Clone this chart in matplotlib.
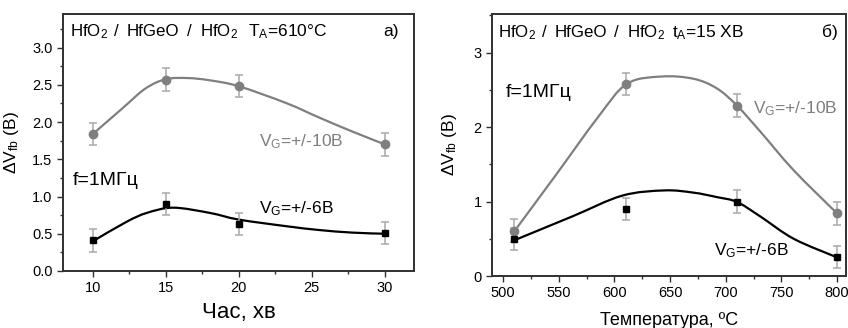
import matplotlib
matplotlib.use("Agg")
import matplotlib.pyplot as plt
from matplotlib.path import Path
from matplotlib.patches import PathPatch
from matplotlib.ticker import MultipleLocator, FormatStrFormatter

plt.rcParams['font.family'] = ['Liberation Sans', 'DejaVu Sans']
plt.rcParams['mathtext.fontset'] = 'custom'
plt.rcParams['mathtext.rm'] = 'Liberation Sans'
plt.rcParams['mathtext.it'] = 'Liberation Sans:italic'
plt.rcParams['mathtext.bf'] = 'Liberation Sans:bold'

# a) anneal time, T_A = 610 C
time_min = [10, 15, 20, 30]
dv10_time = [1.84, 2.57, 2.48, 1.70]
dv6_time = [0.41, 0.90, 0.63, 0.51]
err_time = [0.15, 0.15, 0.15, 0.15]
# smooth curves
fit10_t_x = [10, 12, 13.6, 15, 16.5, 18, 20, 23.3, 25.5, 27.8, 30]
fit10_t = [1.84, 2.18, 2.45, 2.575, 2.59, 2.56, 2.48, 2.25, 2.06, 1.87, 1.70]
fit6_t_x = [10, 12.3, 13.7, 15.5, 18, 20, 23.3, 25.5, 27.8, 30]
fit6_t = [0.40, 0.66, 0.78, 0.85, 0.78, 0.69, 0.60, 0.55, 0.515, 0.50]

# б) anneal temperature, t_A = 15 min
temp_c = [510, 610, 710, 800]
dv10_temp = [0.61, 2.58, 2.29, 0.84]
dv6_temp = [0.50, 0.90, 1.00, 0.255]
err_temp = [0.15, 0.15, 0.15, 0.15]
fit10_T_x = [510, 547, 585, 611, 642, 671, 692, 710, 731, 761, 800]
fit10_T = [0.60, 1.35, 2.13, 2.58, 2.68, 2.65, 2.52, 2.29, 1.94, 1.42, 0.84]
fit6_T_x = [510, 562, 607, 645, 671, 692, 710, 731, 761, 800]
fit6_T = [0.48, 0.80, 1.08, 1.15, 1.12, 1.06, 0.995, 0.80, 0.50, 0.25]

stack_parts = [r'HfO$_2$', '/', 'HfGeO', '/', r'HfO$_2$']

GRAY = '#7f7f7f'
ERR = '#a8a8a8'
AX = '#303030'


def smooth(ax, xs, ys, color):
    # Catmull-Rom through the read points, drawn as a cubic Bezier path
    verts = [(xs[0], ys[0])]
    codes = [Path.MOVETO]
    n = len(xs)
    for i in range(n - 1):
        x0, y0 = (xs[i - 1], ys[i - 1]) if i > 0 else (xs[i], ys[i])
        x1, y1 = xs[i], ys[i]
        x2, y2 = xs[i + 1], ys[i + 1]
        x3, y3 = (xs[i + 2], ys[i + 2]) if i + 2 < n else (x2, y2)
        c1 = (x1 + (x2 - x0) / 6, y1 + (y2 - y0) / 6)
        c2 = (x2 - (x3 - x1) / 6, y2 - (y3 - y1) / 6)
        verts += [c1, c2, (x2, y2)]
        codes += [Path.CURVE4] * 3
    ax.add_patch(PathPatch(Path(verts, codes), fill=False, ec=color, lw=1.6, zorder=2))


def style(ax):
    for s in ax.spines.values():
        s.set_linewidth(1.4)
        s.set_color(AX)
    ax.tick_params(which='both', direction='out', top=False, right=False,
                   color=AX, labelsize=10.5, width=1.0)
    ax.tick_params(which='major', length=4)
    ax.tick_params(which='minor', length=2.5)


def stack_label(ax, xs, y):
    for part, x in zip(stack_parts, xs):
        ax.text(x, y, part, transform=ax.transAxes, fontsize=12.2)


fig = plt.figure(figsize=(8.48, 3.28), dpi=100)
ax1 = fig.add_axes([0.0743, 0.1738, 0.4139, 0.7835])
ax2 = fig.add_axes([0.5802, 0.1585, 0.4175, 0.7988])

# ---- a)
smooth(ax1, fit10_t_x, fit10_t, GRAY)
smooth(ax1, fit6_t_x, fit6_t, 'black')
ax1.errorbar(time_min, dv10_time, yerr=err_time, fmt='o', color=GRAY, ms=6,
             ecolor=ERR, elinewidth=1.1, capsize=2.8, capthick=1.1, zorder=3)
ax1.errorbar(time_min, dv6_time, yerr=err_time, fmt='s', color='black', ms=5,
             ecolor=ERR, elinewidth=1.1, capsize=2.8, capthick=1.1, zorder=3)
ax1.set_xlim(7.95, 32)
ax1.set_ylim(0, 3.45)
ax1.xaxis.set_major_locator(MultipleLocator(5))
ax1.xaxis.set_minor_locator(MultipleLocator(2.5))
ax1.yaxis.set_major_locator(MultipleLocator(0.5))
ax1.yaxis.set_minor_locator(MultipleLocator(0.25))
ax1.yaxis.set_major_formatter(FormatStrFormatter('%.1f'))
style(ax1)
ax1.set_xlabel('Час, хв', fontsize=16, labelpad=5)
ax1.set_ylabel(r'$\Delta$V$_{\mathrm{fb}}$ (B)', fontsize=12.5, labelpad=8)
stack_label(ax1, [0.020, 0.146, 0.182, 0.352, 0.390], 0.914)
ax1.text(0.527, 0.914, r'T$_\mathrm{A}$=610°C', transform=ax1.transAxes, fontsize=12.5)
ax1.text(0.912, 0.914, 'а)', transform=ax1.transAxes, fontsize=12.5)
ax1.text(8.6, 1.15, 'f=1МГц', fontsize=14)
ax1.text(21.4, 1.67, r'V$_\mathrm{G}$=+/-10B', fontsize=12.5, color=GRAY)
ax1.text(21.4, 0.77, r'V$_\mathrm{G}$=+/-6B', fontsize=12.5, color='black')

# ---- б)
smooth(ax2, fit10_T_x, fit10_T, GRAY)
smooth(ax2, fit6_T_x, fit6_T, 'black')
ax2.errorbar(temp_c, dv10_temp, yerr=err_temp, fmt='o', color=GRAY, ms=6,
             ecolor=ERR, elinewidth=1.1, capsize=2.8, capthick=1.1, zorder=3)
ax2.errorbar(temp_c, dv6_temp, yerr=err_temp, fmt='s', color='black', ms=5,
             ecolor=ERR, elinewidth=1.1, capsize=2.8, capthick=1.1, zorder=3)
ax2.set_xlim(490, 808)
ax2.set_ylim(0, 3.52)
ax2.xaxis.set_major_locator(MultipleLocator(50))
ax2.xaxis.set_minor_locator(MultipleLocator(25))
ax2.yaxis.set_major_locator(MultipleLocator(1))
ax2.yaxis.set_minor_locator(MultipleLocator(0.5))
style(ax2)
ax2.set_xlabel('Температура, ºC', fontsize=13, labelpad=8)
ax2.set_ylabel(r'$\Delta$V$_{\mathrm{fb}}$ (B)', fontsize=12.5, labelpad=10)
stack_label(ax2, [0.017, 0.141, 0.177, 0.344, 0.380], 0.912)
ax2.text(0.508, 0.912, r't$_\mathrm{A}$=15 ХВ', transform=ax2.transAxes, fontsize=12.5)
ax2.text(0.932, 0.912, 'б)', transform=ax2.transAxes, fontsize=12.5)
ax2.text(0.04, 0.683, 'f=1МГц', transform=ax2.transAxes, fontsize=14)
ax2.text(0.737, 0.622, r'V$_\mathrm{G}$=+/-10B', transform=ax2.transAxes, fontsize=12.5, color=GRAY)
ax2.text(0.627, 0.08, r'V$_\mathrm{G}$=+/-6B', transform=ax2.transAxes, fontsize=12.5, color='black')

fig.savefig('out.png', dpi=100)
